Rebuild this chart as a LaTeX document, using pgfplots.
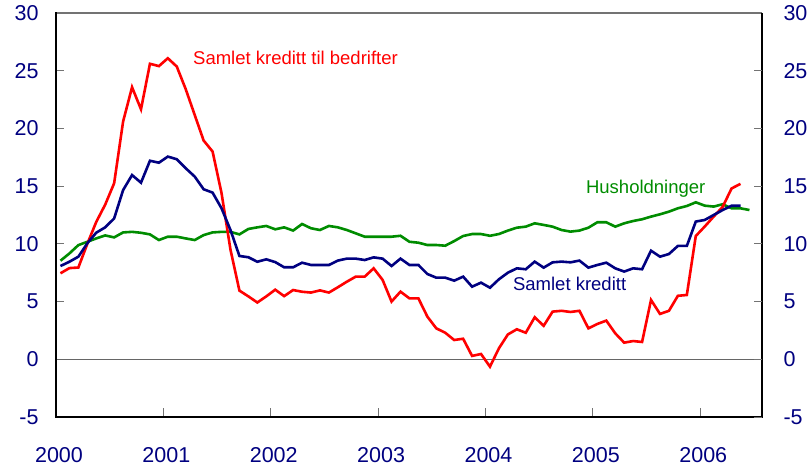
\documentclass[border=0pt]{standalone}
\usepackage{fontspec}
\setmainfont{Liberation Sans}
\usepackage{pgfplots}
\usepackage{pgfplotstable}
\pgfplotsset{compat=1.18}
\definecolor{navy}{RGB}{0,0,128}
\definecolor{hgreen}{RGB}{0,140,0}
\definecolor{kred}{RGB}{255,0,0}
\pgfplotstableread{
m red blue green
0 7.45 8.08 8.54
1 7.9 8.45 9.17
2 7.95 8.89 9.89
3 10.0 10.05 10.18
4 11.9 10.97 10.47
5 13.4 11.43 10.73
6 15.25 12.2 10.56
7 20.6 14.66 10.99
8 23.57 15.96 11.04
9 21.66 15.3 10.96
10 25.6 17.2 10.82
11 25.4 17.03 10.33
12 26.08 17.56 10.62
13 25.36 17.33 10.62
14 23.4 16.55 10.47
15 21.17 15.83 10.33
16 18.95 14.73 10.76
17 18.0 14.44 10.99
18 14.4 13.08 11.04
19 9.5 11.2 11.04
20 5.95 8.95 10.82
21 5.45 8.84 11.29
22 4.92 8.45 11.43
23 5.45 8.66 11.55
24 6.03 8.42 11.26
25 5.47 7.97 11.43
26 6.0 7.97 11.15
27 5.85 8.37 11.72
28 5.78 8.17 11.35
29 5.97 8.17 11.2
30 5.78 8.17 11.55
31 6.24 8.55 11.43
32 6.72 8.72 11.2
33 7.16 8.72 10.91
34 7.16 8.6 10.62
35 7.88 8.83 10.62
36 6.88 8.72 10.62
37 5.0 8.08 10.62
38 5.86 8.72 10.7
39 5.28 8.17 10.18
40 5.28 8.17 10.1
41 3.7 7.39 9.9
42 2.68 7.07 9.9
43 2.3 7.07 9.84
44 1.67 6.81 10.24
45 1.78 7.16 10.68
46 0.29 6.29 10.85
47 0.46 6.64 10.85
48 -0.64 6.2 10.7
49 0.95 6.93 10.85
50 2.15 7.5 11.15
51 2.6 7.88 11.4
52 2.3 7.8 11.49
53 3.64 8.46 11.78
54 2.9 7.94 11.64
55 4.13 8.4 11.49
56 4.2 8.46 11.2
57 4.1 8.4 11.06
58 4.2 8.55 11.15
59 2.68 7.94 11.4
60 3.06 8.17 11.87
61 3.35 8.37 11.87
62 2.25 7.88 11.49
63 1.44 7.6 11.78
64 1.58 7.88 11.98
65 1.5 7.8 12.13
66 5.14 9.41 12.36
67 3.93 8.89 12.56
68 4.2 9.12 12.79
69 5.5 9.82 13.08
70 5.57 9.82 13.28
71 10.68 11.93 13.6
72 11.5 12.07 13.31
73 12.36 12.5 13.23
74 13.2 12.93 13.43
75 14.8 13.3 13.08
76 15.2 13.3 13.08
77 nan nan 12.93
}\data
\begin{document}
\begin{tikzpicture}[x=1pt,y=1pt]
\begin{axis}[
  name=main,
  at={(0,0)}, anchor=south west,
  scale only axis, width=706pt, height=404pt,
  xmin=2000, xmax=2006.575,
  ymin=-5, ymax=30,
  axis line style={draw=none},
  xtick={2000,2001,2002,2003,2004,2005,2006},
  xticklabels={2000,2001,2002,2003,2004,2005,2006},
  ytick={-5,0,5,10,15,20,25,30},
  tick align=inside,
  major tick length=8.5pt,
  tick style={black!55, line width=1pt},
  x tick label style={font=\fontsize{21.5}{24}\selectfont, text=navy, yshift=-27pt, xshift=3pt},
  y tick label style={font=\fontsize{21.5}{24}\selectfont, text=navy},
  yticklabel pos=left,
  xtick pos=bottom,
  ytick pos=left,
  /pgf/number format/assume math mode=true,
  yticklabel style={xshift=-14pt},
  clip=false,
]
\addplot[black!60, line width=1.2pt, forget plot] coordinates {(2000,0) (2006.575,0)};
\addplot[hgreen, line width=2.6pt] table[x expr={2000+(\thisrow{m}+0.5)/12}, y=green] {\data};
\addplot[kred, line width=2.6pt, unbounded coords=discard] table[x expr={2000+(\thisrow{m}+0.5)/12}, y=red] {\data};
\addplot[navy, line width=2.6pt, unbounded coords=discard] table[x expr={2000+(\thisrow{m}+0.5)/12}, y=blue] {\data};
\node[anchor=base west, inner sep=0pt, text=kred, font=\fontsize{18.5}{22}\selectfont] at (axis cs:2001.276,25.5) {Samlet kreditt til bedrifter};
\node[anchor=base west, inner sep=0pt, text=hgreen, font=\fontsize{18.5}{22}\selectfont] at (axis cs:2004.935,14.33) {Husholdninger};
\node[anchor=base west, inner sep=0pt, text=navy, font=\fontsize{18.5}{22}\selectfont] at (axis cs:2004.255,6.0) {Samlet kreditt};
\draw[black!55, line width=1.3pt] (rel axis cs:0,1) -- (rel axis cs:1,1);
\draw[black, line width=1.2pt] (rel axis cs:1,0) -- (rel axis cs:1,1);
\draw[black, line width=2.2pt, line cap=rect] (rel axis cs:0,1) -- (rel axis cs:0,0) -- (rel axis cs:1,0);
\end{axis}
\begin{axis}[
  at={(0,0)}, anchor=south west,
  scale only axis, width=706pt, height=404pt,
  xmin=2000, xmax=2006.575,
  ymin=-5, ymax=30,
  axis x line=none,
  axis y line*=right,
  axis line style={draw=none},
  ytick={-5,0,5,10,15,20,25,30},
  tick align=inside,
  major tick length=8.5pt,
  tick style={black!55, line width=1pt},
  y tick label style={font=\fontsize{21.5}{24}\selectfont, text=navy, xshift=18pt},
  /pgf/number format/assume math mode=true,
]
\end{axis}
\pgfresetboundingbox
\path (-56,-55) rectangle (751,417);
\end{tikzpicture}
\end{document}
